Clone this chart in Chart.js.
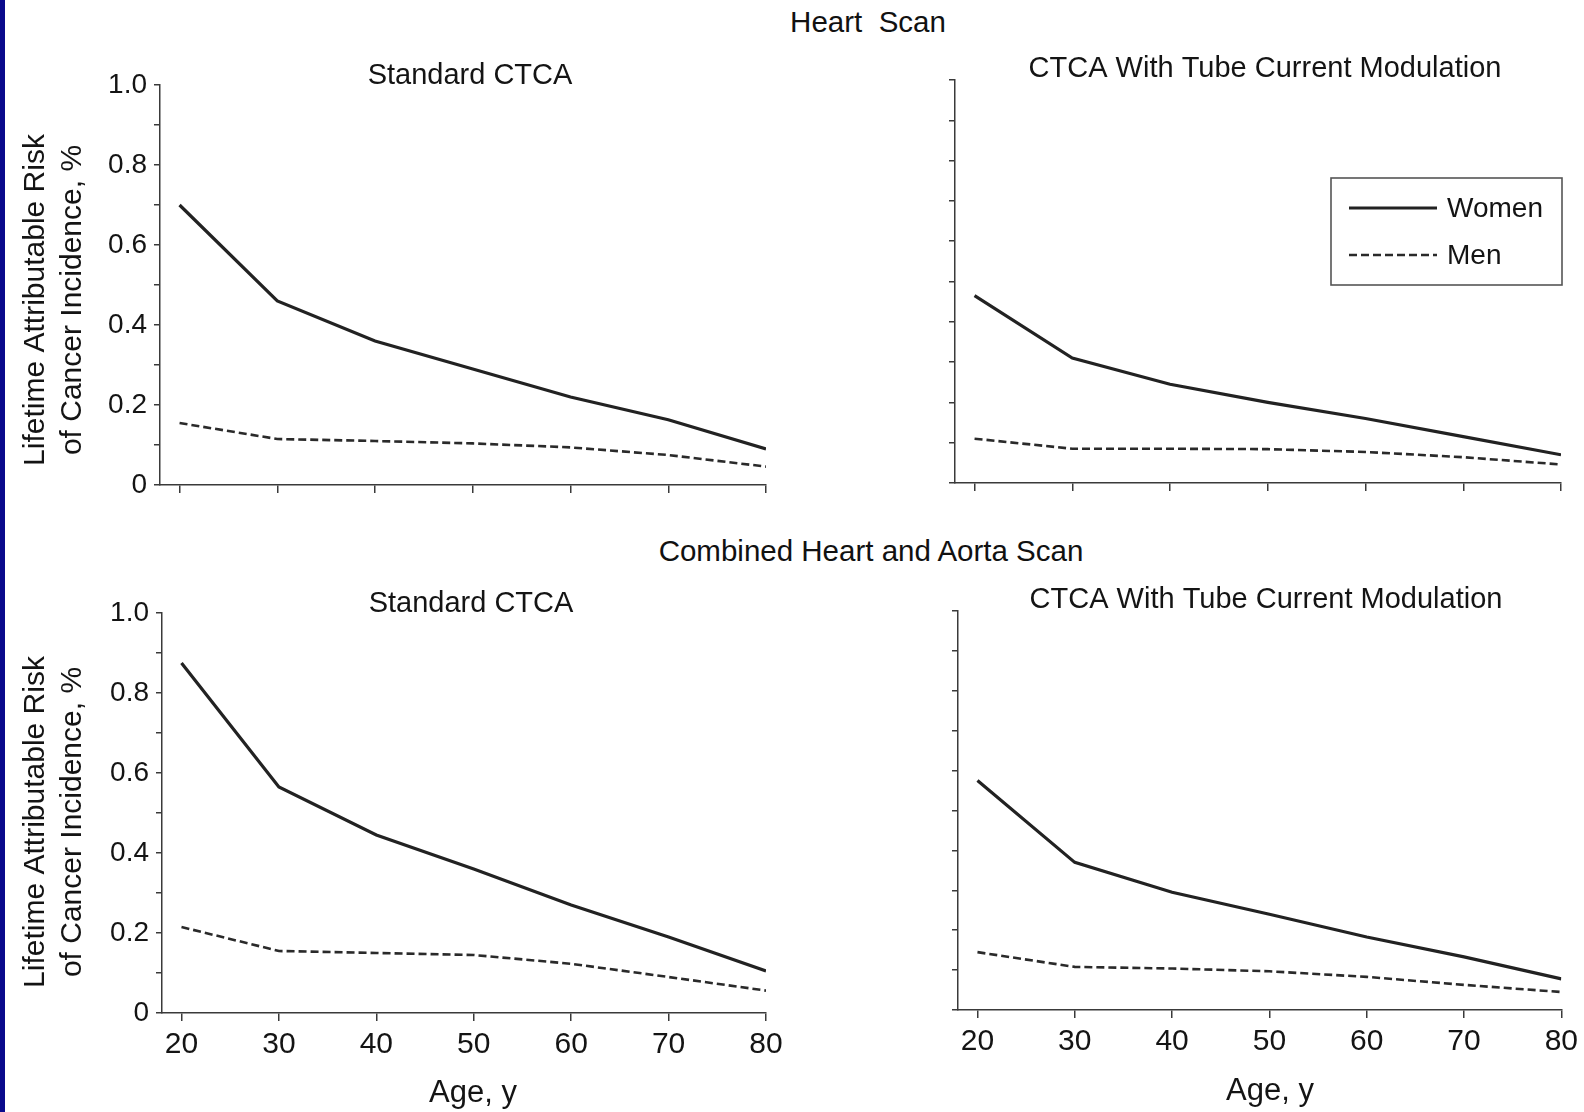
<!DOCTYPE html>
<html>
<head>
<meta charset="utf-8">
<script src="https://cdn.jsdelivr.net/npm/chart.js@4.4.0/dist/chart.umd.min.js"></script>
<style>
html,body{margin:0;padding:0;background:#fff;}
body{width:1584px;height:1112px;position:relative;overflow:hidden;font-family:"Liberation Sans",Arial,Helvetica,sans-serif;}
#strip{position:absolute;left:0;top:0;width:5px;height:1112px;background:#0a0a8c;z-index:5;}
.sup{position:absolute;font-size:29.5px;line-height:1;color:#111;white-space:pre;transform:translate(-50%,-50%);}
canvas{position:absolute;}
</style>
</head>
<body>
<div id="strip"></div>
<div class="sup" style="left:868px;top:22px">Heart  Scan</div>
<div class="sup" style="left:871px;top:551px">Combined Heart and Aorta Scan</div>
<canvas id="c0"></canvas>
<canvas id="c1"></canvas>
<canvas id="c2"></canvas>
<canvas id="c3"></canvas>
<script>
// ---------- data ----------
const ages = [20, 30, 40, 50, 60, 70, 80];
const xTickValues = [20, 30, 40, 50, 60, 70, 80];
const xTickLabels = ['20', '30', '40', '50', '60', '70', '80'];
const yTickValues = [0, 0.1, 0.2, 0.3, 0.4, 0.5, 0.6, 0.7, 0.8, 0.9, 1.0];
const yTickLabels = ['0', '', '0.2', '', '0.4', '', '0.6', '', '0.8', '', '1.0'];
const seriesNames = ['Women', 'Men'];

const heartStdWomen = [0.70, 0.46, 0.36, 0.29, 0.22, 0.163, 0.09];
const heartStdMen   = [0.155, 0.115, 0.11, 0.104, 0.094, 0.075, 0.046];
const heartTcmWomen = [0.465, 0.31, 0.245, 0.20, 0.16, 0.115, 0.07];
const heartTcmMen   = [0.11, 0.085, 0.085, 0.084, 0.077, 0.064, 0.046];
const comboStdWomen = [0.875, 0.565, 0.445, 0.36, 0.27, 0.19, 0.105];
const comboStdMen   = [0.215, 0.155, 0.15, 0.145, 0.123, 0.09, 0.056];
const comboTcmWomen = [0.575, 0.37, 0.295, 0.24, 0.183, 0.133, 0.078];
const comboTcmMen   = [0.145, 0.108, 0.104, 0.097, 0.083, 0.063, 0.045];

const panelTitles = ['Standard CTCA', 'CTCA With Tube Current Modulation', 'Standard CTCA', 'CTCA With Tube Current Modulation'];
const yAxisTitle = ['Lifetime Attributable Risk', 'of Cancer Incidence, %'];
const xAxisTitle = 'Age, y';

// ---------- drawing ----------
const FONT = '"Liberation Sans", Arial, Helvetica, sans-serif';
const INK = '#141414';
const AXIS = '#3a3a3a';

const textPlugin = {
  id: 'panelText',
  afterDraw(chart, args, opts) {
    const ctx = chart.ctx;
    (opts.items || []).forEach(it => {
      ctx.save();
      ctx.fillStyle = INK;
      ctx.font = it.size + 'px ' + FONT;
      ctx.textAlign = it.align || 'center';
      ctx.textBaseline = 'middle';
      ctx.translate(it.x, it.y);
      if (it.rotate) ctx.rotate(it.rotate);
      ctx.fillText(it.text, 0, 0);
      ctx.restore();
    });
    const lg = opts.legend;
    if (lg) {
      ctx.save();
      ctx.strokeStyle = '#555';
      ctx.lineWidth = 1.6;
      ctx.strokeRect(lg.x, lg.y, lg.w, lg.h);
      chart.data.datasets.forEach((ds, i) => {
        const yy = lg.rows[i];
        ctx.strokeStyle = ds.borderColor;
        ctx.lineWidth = ds.borderWidth;
        ctx.setLineDash(ds.borderDash || []);
        ctx.beginPath();
        ctx.moveTo(lg.lx0, yy);
        ctx.lineTo(lg.lx1, yy);
        ctx.stroke();
        ctx.setLineDash([]);
        ctx.fillStyle = INK;
        ctx.font = '28px ' + FONT;
        ctx.textAlign = 'left';
        ctx.textBaseline = 'middle';
        ctx.fillText(ds.label, lg.tx, yy + 1);
      });
      ctx.restore();
    }
  }
};

function makeChart(spec) {
  const cv = document.getElementById(spec.id);
  cv.width = spec.w; cv.height = spec.h;
  cv.style.left = spec.x + 'px'; cv.style.top = spec.y + 'px';
  const L = spec.L - spec.x, T = spec.T - spec.y, R = spec.R - spec.x, B = spec.B - spec.y;
  const items = [{ text: spec.title, x: spec.titleX - spec.x, y: spec.titleY - spec.y, size: 29 }];
  if (spec.yTitle) {
    items.push({ text: yAxisTitle[0], x: 36 - spec.x, y: spec.yTitleY - spec.y, size: 30, rotate: -Math.PI / 2 });
    items.push({ text: yAxisTitle[1], x: 73 - spec.x, y: spec.yTitleY - spec.y, size: 30, rotate: -Math.PI / 2 });
  }
  if (spec.xLabels) {
    items.push({ text: xAxisTitle, x: spec.xTitleX - spec.x, y: spec.xTitleY - spec.y, size: 31 });
  }
  return new Chart(cv, {
    type: 'line',
    data: {
      datasets: [
        { label: seriesNames[0], data: ages.map((a, i) => ({ x: a, y: spec.women[i] })),
          borderColor: '#222222', borderWidth: 3.2, pointRadius: 0, tension: 0, fill: false },
        { label: seriesNames[1], data: ages.map((a, i) => ({ x: a, y: spec.men[i] })),
          borderColor: '#2a2a2a', borderWidth: 2.6, borderDash: [8, 4], pointRadius: 0, tension: 0, fill: false }
      ]
    },
    options: {
      responsive: false, animation: false, devicePixelRatio: 1,
      events: [],
      layout: { padding: { left: 0, top: T, right: spec.w - R, bottom: 0 } },
      plugins: {
        legend: { display: false }, tooltip: { enabled: false },
        panelText: { items: items, legend: spec.legend || null }
      },
      scales: {
        x: {
          type: 'linear', min: 18, max: 80,
          afterBuildTicks: s => { s.ticks = xTickValues.map(v => ({ value: v })); },
          afterFit: s => { s.height = spec.h - B; },
          grid: { drawOnChartArea: false, drawTicks: true, tickLength: 8, color: AXIS, lineWidth: 1.5 },
          border: { display: true, color: AXIS, width: 1.5 },
          ticks: { autoSkip: false, maxRotation: 0, padding: 6, color: INK, font: { family: FONT, size: 30 },
                   callback: (v, i) => spec.xLabels ? xTickLabels[i] : '' },
          title: { display: false }
        },
        y: {
          type: 'linear', min: 0, max: 1,
          afterBuildTicks: s => { s.ticks = yTickValues.map(v => ({ value: v })); },
          afterFit: s => { s.width = L; },
          grid: { drawOnChartArea: false, drawTicks: true, tickLength: 6, color: AXIS, lineWidth: 1.5 },
          border: { display: true, color: AXIS, width: 1.5 },
          ticks: { autoSkip: false, padding: 7, color: INK, font: { family: FONT, size: 28 },
                   callback: (v, i) => spec.yLabels ? yTickLabels[i] : '' }
        }
      }
    },
    plugins: [textPlugin]
  });
}

makeChart({ id: 'c0', x: 0, y: 0, w: 800, h: 530, L: 160, T: 85, R: 766, B: 485,
  women: heartStdWomen, men: heartStdMen, title: panelTitles[0], titleX: 470, titleY: 76,
  yLabels: true, yTitle: true, yTitleY: 300, xLabels: false });
makeChart({ id: 'c1', x: 800, y: 0, w: 784, h: 530, L: 955, T: 80, R: 1561, B: 483,
  women: heartTcmWomen, men: heartTcmMen, title: panelTitles[1], titleX: 1265, titleY: 69,
  yLabels: false, yTitle: false, xLabels: false,
  legend: { x: 531, y: 178, w: 231, h: 107, lx0: 549, lx1: 637, tx: 647, rows: [208, 255] } });
makeChart({ id: 'c2', x: 0, y: 530, w: 800, h: 582, L: 162, T: 613, R: 766, B: 1013,
  women: comboStdWomen, men: comboStdMen, title: panelTitles[2], titleX: 471, titleY: 604,
  yLabels: true, yTitle: true, yTitleY: 822, xLabels: true, xTitleX: 473, xTitleY: 1093 });
makeChart({ id: 'c3', x: 800, y: 530, w: 784, h: 582, L: 958, T: 611, R: 1562, B: 1010,
  women: comboTcmWomen, men: comboTcmMen, title: panelTitles[3], titleX: 1266, titleY: 600,
  yLabels: false, yTitle: false, xLabels: true, xTitleX: 1270, xTitleY: 1091 });
</script>
</body>
</html>
